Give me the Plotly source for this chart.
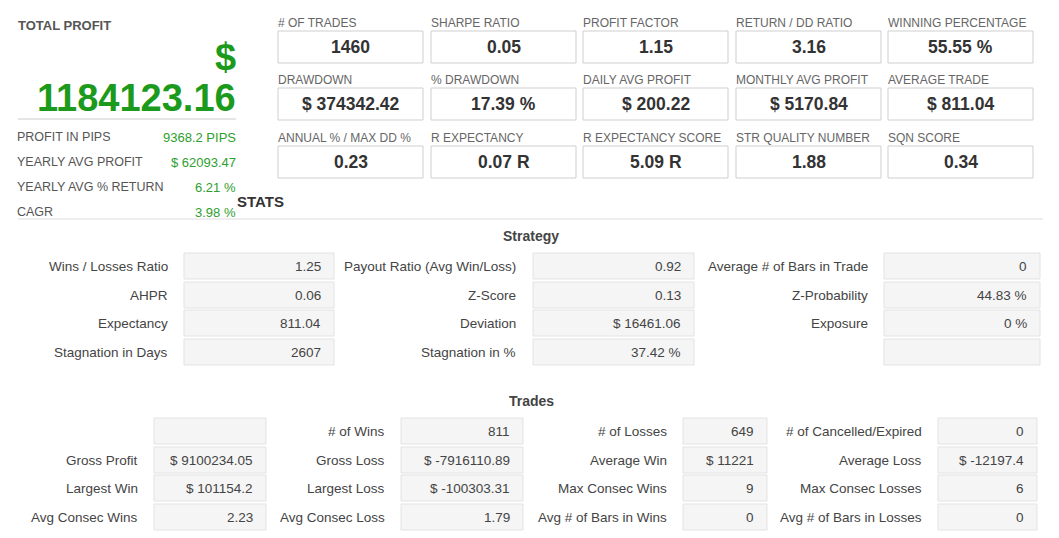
import plotly.graph_objects as go

# top metric tiles (row by row)
tile_labels = ['# OF TRADES', 'SHARPE RATIO', 'PROFIT FACTOR', 'RETURN / DD RATIO', 'WINNING PERCENTAGE',
               'DRAWDOWN', '% DRAWDOWN', 'DAILY AVG PROFIT', 'MONTHLY AVG PROFIT', 'AVERAGE TRADE',
               'ANNUAL % / MAX DD %', 'R EXPECTANCY', 'R EXPECTANCY SCORE', 'STR QUALITY NUMBER', 'SQN SCORE']
tile_values = ['1460', '0.05', '1.15', '3.16', '55.55 %',
               '$ 374342.42', '17.39 %', '$ 200.22', '$ 5170.84', '$ 811.04',
               '0.23', '0.07 R', '5.09 R', '1.88', '0.34']

total_profit = '1184123.16'
summary_labels = ['PROFIT IN PIPS', 'YEARLY AVG PROFIT', 'YEARLY AVG % RETURN', 'CAGR']
summary_values = ['9368.2 PIPS', '$ 62093.47', '6.21 %', '3.98 %']

# strategy grid, column by column
strategy_labels = [['Wins / Losses Ratio', 'AHPR', 'Expectancy', 'Stagnation in Days'],
                   ['Payout Ratio (Avg Win/Loss)', 'Z-Score', 'Deviation', 'Stagnation in %'],
                   ['Average # of Bars in Trade', 'Z-Probability', 'Exposure', '']]
strategy_values = [['1.25', '0.06', '811.04', '2607'],
                   ['0.92', '0.13', '$ 16461.06', '37.42 %'],
                   ['0', '44.83 %', '0 %', '']]

# trades grid, column by column
trades_labels = [['', 'Gross Profit', 'Largest Win', 'Avg Consec Wins'],
                 ['# of Wins', 'Gross Loss', 'Largest Loss', 'Avg Consec Loss'],
                 ['# of Losses', 'Average Win', 'Max Consec Wins', 'Avg # of Bars in Wins'],
                 ['# of Cancelled/Expired', 'Average Loss', 'Max Consec Losses', 'Avg # of Bars in Losses']]
trades_values = [['', '$ 9100234.05', '$ 101154.2', '2.23'],
                 ['811', '$ -7916110.89', '$ -100303.31', '1.79'],
                 ['649', '$ 11221', '9', '0'],
                 ['0', '$ -12197.4', '6', '0']]

FONT = 'Liberation Sans, Arial, sans-serif'
GREEN = '#1c9a1c'
shapes = []
annots = []


def text(x, y, s, size=12, color='#555', bold=False, anchor='left'):
    if bold:
        s = '<b>' + s + '</b>'
    annots.append(dict(x=x, y=y, text=s, showarrow=False, xanchor=anchor, yanchor='middle',
                       font=dict(family=FONT, size=size, color=color)))


def box(x0, y0, x1, y1, fill, line):
    shapes.append(dict(type='rect', x0=x0, y0=y0, x1=x1, y1=y1, fillcolor=fill,
                       line=dict(color=line, width=1), layer='below'))


# left summary panel
text(16, 25, 'TOTAL PROFIT', size=13, bold=True)
text(238, 57, '$', size=38, color=GREEN, bold=True, anchor='right')
text(238, 98, total_profit, size=38, color=GREEN, bold=True, anchor='right')
shapes.append(dict(type='line', x0=18, x1=236, y0=119, y1=119, line=dict(color='#ccc', width=1)))
for i, (lab, val) in enumerate(zip(summary_labels, summary_values)):
    y = 137 + i * 25
    text(15, y, lab, size=12.5)
    text(238, y, val, size=13, color='#2e9e2e', anchor='right')

# tiles
tile_x = [278, 431, 583, 736, 888]
tile_y = [31, 88, 146]
for i, (lab, val) in enumerate(zip(tile_labels, tile_values)):
    x0 = tile_x[i % 5]
    y0 = tile_y[i // 5]
    box(x0, y0, x0 + 145, y0 + 32, 'white', '#cfcfcf')
    text(x0 - 2, y0 - 8, lab, size=12, color='#666')
    text(x0 + 72.5, y0 + 16, val, size=17.5, color='#333', bold=True, anchor='center')

text(235, 201, 'STATS', size=15, color='#333', bold=True)
shapes.append(dict(type='line', x0=18, x1=1043, y0=219, y1=219, line=dict(color='#ddd', width=1)))

# strategy
text(531, 236, 'Strategy', size=14, color='#444', bold=True, anchor='center')
strat_cols = [(170, 184, 334), (518, 533, 694), (870, 884, 1040)]
strat_rows = [266, 295, 323, 352]
for c, (lx, bx0, bx1) in enumerate(strat_cols):
    for r, y in enumerate(strat_rows):
        box(bx0, y - 13, bx1, y + 13, '#f5f5f5', '#e3e3e3')
        if strategy_labels[c][r]:
            text(lx, y, strategy_labels[c][r], size=13.5, color='#444', anchor='right')
        if strategy_values[c][r]:
            text(bx1 - 11, y, strategy_values[c][r], size=13.5, color='#444', anchor='right')

# trades
text(531, 401, 'Trades', size=14, color='#444', bold=True, anchor='center')
trade_cols = [(140, 154, 266), (387, 401, 523), (669, 683, 767), (924, 938, 1037)]
trade_rows = [431, 460, 488, 517]
for c, (lx, bx0, bx1) in enumerate(trade_cols):
    for r, y in enumerate(trade_rows):
        box(bx0, y - 13, bx1, y + 13, '#f5f5f5', '#e3e3e3')
        if trades_labels[c][r]:
            text(lx, y, trades_labels[c][r], size=13.5, color='#444', anchor='right')
        if trades_values[c][r]:
            text(bx1 - 11, y, trades_values[c][r], size=13.5, color='#444', anchor='right')

# page body adds an 8px margin, so the figure starts at (8, 8)
fig = go.Figure()
fig.update_layout(
    width=1051, height=530,
    margin=dict(l=0, r=0, t=0, b=0),
    paper_bgcolor='white', plot_bgcolor='white',
    xaxis=dict(range=[8, 1059], visible=False, fixedrange=True),
    yaxis=dict(range=[538, 8], visible=False, fixedrange=True),
    shapes=shapes, annotations=annots, showlegend=False,
)
fig.write_html("out.html")
